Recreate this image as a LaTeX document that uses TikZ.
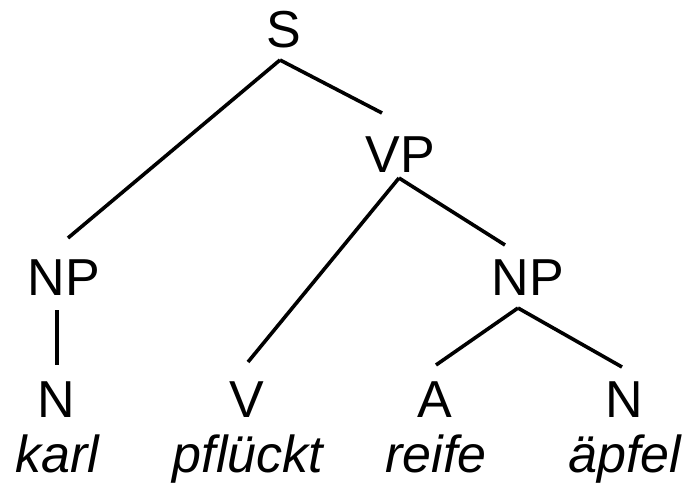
\documentclass[tikz,border=0pt]{standalone}
\usepackage{fontspec}
\setmainfont{Liberation Sans}
\usepackage{tikz}
\usetikzlibrary{calc}
\tikzset{cat/.style={
  font=\fontsize{26}{30}\selectfont,
  inner sep=0pt,
  anchor=base
  }
}
\tikzset{word/.style={
  cat,
  font=\fontsize{26}{30}\selectfont\itshape
  }
}
\tikzset{branch/.style={
  black,
  line width=1.8pt
  }
}
\begin{document}
\begin{tikzpicture}[x=0.5pt,y=-0.5pt]
    \useasboundingbox (0,0) rectangle (687,489);

    \node[cat] (S) at (284,47) {S};
    \node[cat] (VP) at (400,172) {VP};
    \node[cat] (NPa) at (64,295) {NP};
    \node[cat] (NPb) at (528,295) {NP};

    \foreach \x/\c/\w [count=\n] in {56/N/karl,247/V/pflückt,435/A/reife,624/N/äpfel} {
        \node[cat] (C\n) at (\x,417) {\c};
        \node[word] (W\n) at (\x+1,472) {\w};
    }

    \draw[branch] ($(S.base)+(-4,13)$) -- ($(NPa.base)+(4,-57)$);
    \draw[branch] ($(S.base)+(-4,13)$) -- ($(VP.base)+(-18,-59)$);
    \draw[branch] ($(NPa.base)+(-7,15)$) -- ($(C1.base)+(1,-52)$);
    \draw[branch] ($(VP.base)+(-1,6)$) -- ($(C2.base)+(1,-55)$);
    \draw[branch] ($(VP.base)+(-1,6)$) -- ($(NPb.base)+(-23,-50)$);
    \draw[branch] ($(NPb.base)+(-10,13)$) -- ($(C3.base)+(1,-52)$);
    \draw[branch] ($(NPb.base)+(-10,13)$) -- ($(C4.base)+(-2,-50)$);

\end{tikzpicture}
\end{document}
